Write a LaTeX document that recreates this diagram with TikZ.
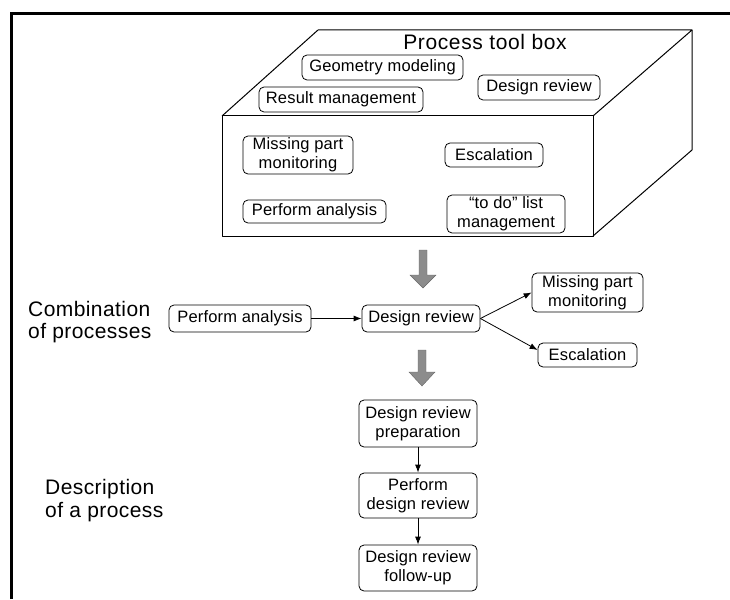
\documentclass[tikz,border=0pt]{standalone}
\usepackage{fontspec}
\setmainfont{Liberation Sans}
\usetikzlibrary{arrows.meta}
\begin{document}
\begin{tikzpicture}[x=1pt,y=-1pt,
  proc/.style={draw, line width=0.8pt, rounded corners=5pt, inner sep=0pt,
    align=center, font=\fontsize{16.5}{19}\selectfont\addfontfeature{LetterSpace=1}},
  flow/.style={-{Latex[length=8pt,width=6pt]}, line width=0.8pt},
  frameline/.style={line width=3pt},
  cube/.style={line width=1pt, line join=round},
  sidelabel/.style={font=\fontsize{21}{23}\selectfont\addfontfeature{LetterSpace=2},
    anchor=base west, inner sep=0pt},
  bigarrow/.style={fill=black!45, draw=black!60, line width=0.4pt}
]
\useasboundingbox (0,0) rectangle (730,599);

% outer frame: left and top edges
\draw[frameline] (11,599) -- (11,14) -- (730,14);

% the tool box drawn as a cuboid
\coordinate (fTL) at (222,116);
\coordinate (fTR) at (593,116);
\coordinate (fBR) at (593,236);
\coordinate (bTL) at (318,30);
\coordinate (bTR) at (692,30);
\coordinate (bBR) at (692,150);
\draw[cube] (fTL) rectangle (fBR);
\draw[cube] (fTL) -- (bTL) -- (bTR) -- (fTR);
\draw[cube] (bTR) -- (bBR) -- (fBR);

\node[font=\fontsize{21}{23}\selectfont\addfontfeature{LetterSpace=3}, anchor=base,
  inner sep=0pt] (title) at (485,49.5) {Process tool box};

% processes on the top face
\node[proc, minimum width=161, minimum height=25] (tGeo) at (382.5,67.5) {Geometry modeling};
\node[proc, minimum width=122, minimum height=25] (tDes) at (539,87.5) {Design review};
\node[proc, minimum width=164, minimum height=25] (tRes) at (341,99.5) {Result management};

% processes on the front face
\node[proc, minimum width=110, minimum height=38] (tMis) at (298,155) {Missing part\\monitoring};
\node[proc, minimum width=98, minimum height=24] (tEsc) at (494,155) {Escalation};
\node[proc, minimum width=143, minimum height=23] (tPer) at (314.5,211.5) {Perform analysis};
\node[proc, minimum width=118, minimum height=38] (tTodo) at (506,214) {“to do” list\\management};

% wide grey arrows between the levels
\coordinate (g1) at (423,250);
\coordinate (g2) at (422,350);
\fill[bigarrow] (g1) ++(-4,0) -- ++(8,0) -- ++(0,25) -- ++(9,0) -- ++(-13,13) -- ++(-13,-13) -- ++(9,0) -- cycle;
\fill[bigarrow] (g2) ++(-4,0) -- ++(8,0) -- ++(0,22) -- ++(9,0) -- ++(-13,14) -- ++(-13,-14) -- ++(9,0) -- cycle;

% combination of processes
\node[sidelabel] (comb1) at (28,316) {Combination};
\node[sidelabel] (comb2) at (28,338) {of processes};

\node[proc, minimum width=142, minimum height=27] (cPer) at (240,318.5) {Perform analysis};
\node[proc, minimum width=118, minimum height=27] (cDes) at (421,318.5) {Design review};
\node[proc, minimum width=111, minimum height=39] (cMis) at (587.5,292.5) {Missing part\\monitoring};
\node[proc, minimum width=99, minimum height=24] (cEsc) at (587.5,355) {Escalation};

\draw[flow] (cPer) -- (cDes);
\draw[flow] (cDes.east) -- (cMis.west);
\draw[flow] (cDes.east) -- ([yshift=5pt]cEsc.west);

% description of a process
\node[sidelabel] (desc1) at (45,494) {Description};
\node[sidelabel] (desc2) at (45,517) {of a process};

\node[proc, minimum width=118, minimum height=47] (dPrep) at (418,423.5) {Design review\\preparation};
\node[proc, minimum width=118, minimum height=45] (dPerf) at (418,495.5) {Perform\\design review};
\node[proc, minimum width=118, minimum height=46] (dFol) at (418,568) {Design review\\follow-up};

\draw[flow] (dPrep) -- (dPerf);
\draw[flow] (dPerf) -- (dFol);
\end{tikzpicture}
\end{document}
